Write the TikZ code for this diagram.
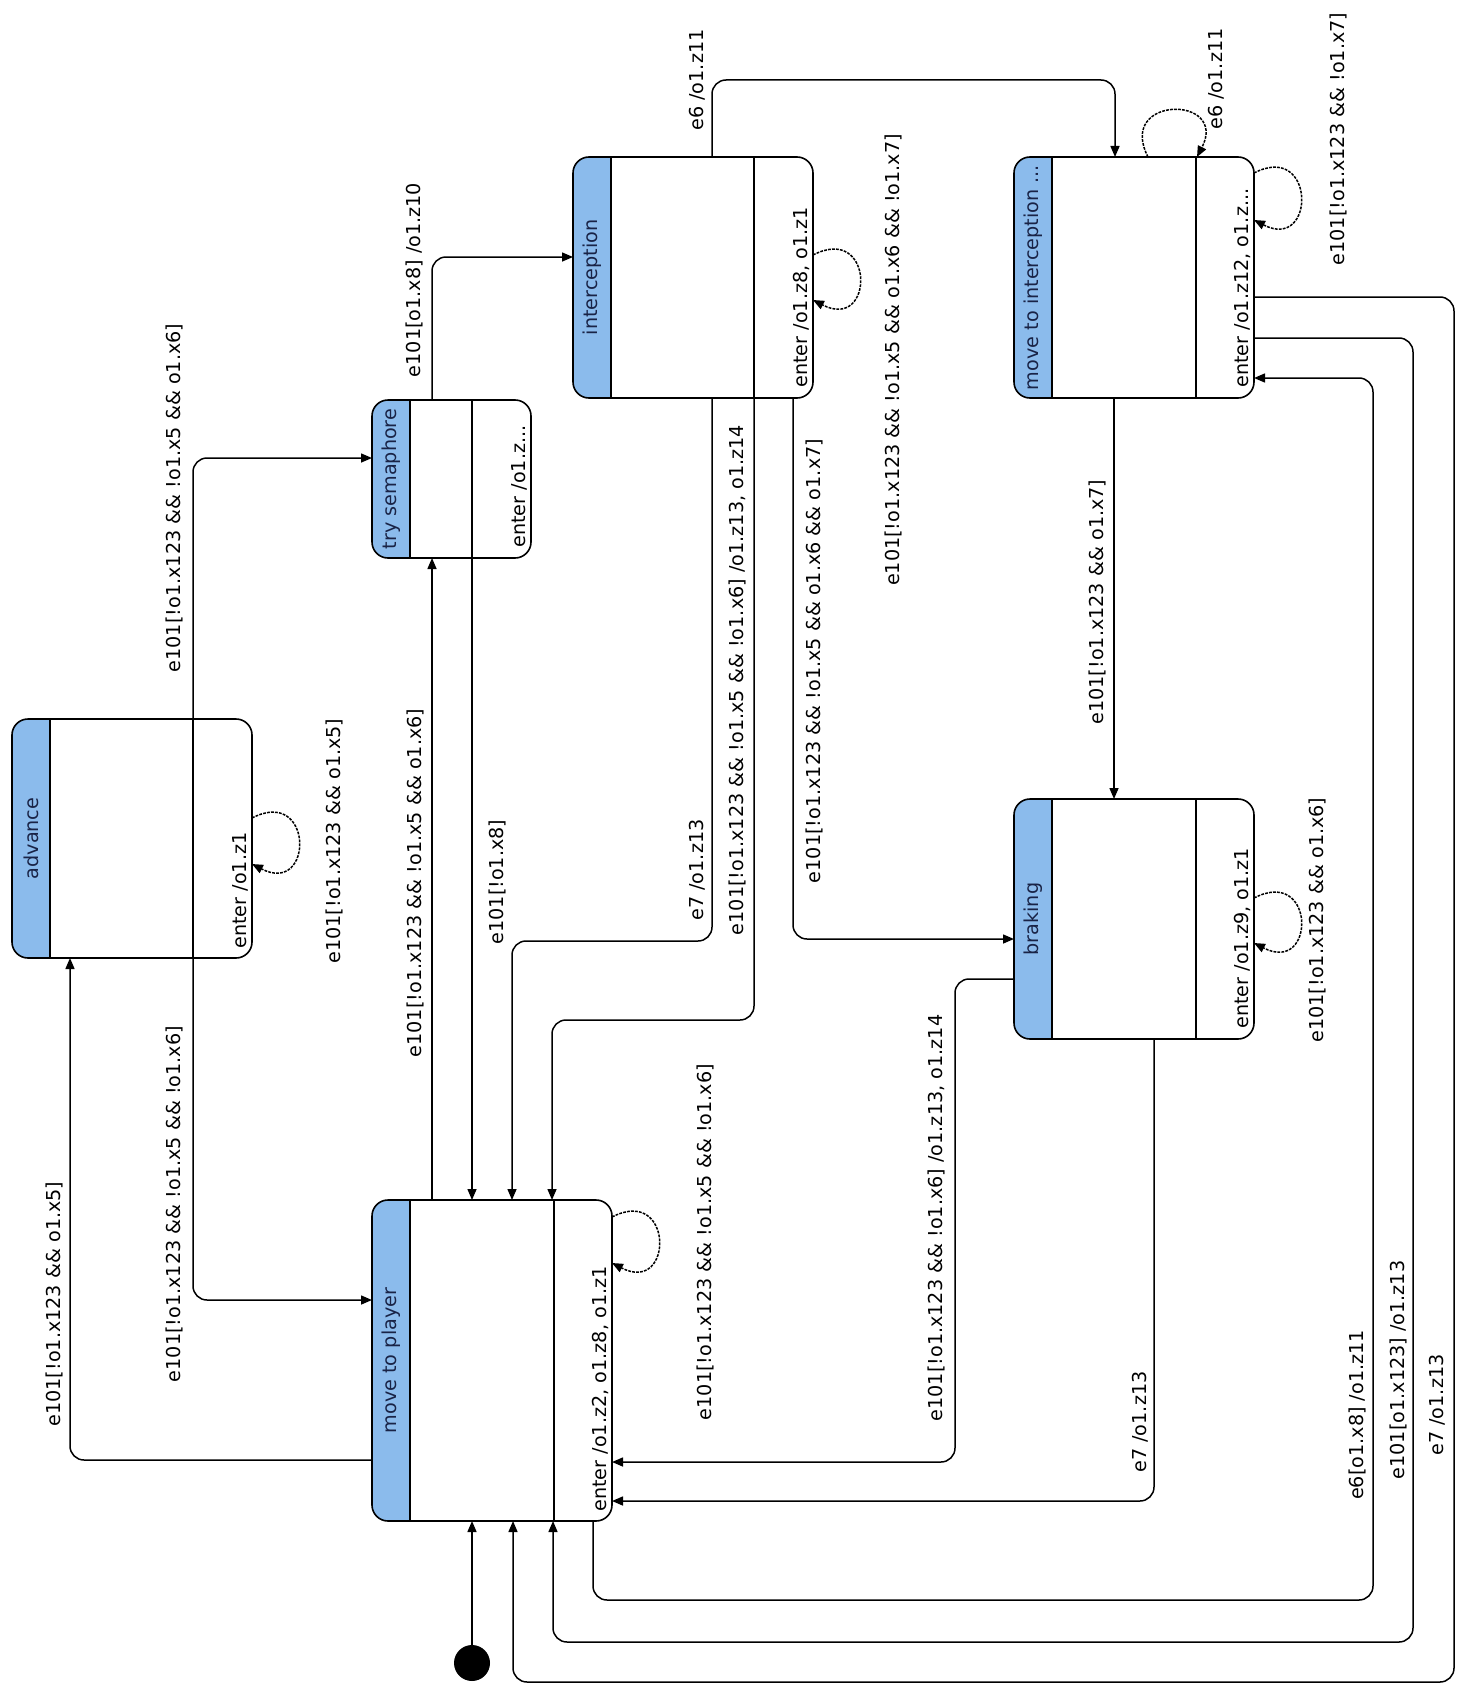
\documentclass[tikz,border=0pt]{standalone}
\usepackage{fontspec}
\setmainfont{DejaVu Sans}
\usetikzlibrary{arrows.meta,calc,fit}
\definecolor{hdrblue}{RGB}{139,187,236}
\definecolor{hdrtext}{RGB}{25,35,70}
\newcommand{\lblfont}{\fontsize{9.6}{11}\selectfont}
\begin{document}
\begin{tikzpicture}[x=0.5pt, y=-0.5pt,
  statebox/.style={draw, line width=0.8pt, rounded corners=8pt, fill=white,
    inner sep=0pt, outer sep=0pt,
    path picture={\fill[hdrblue, sharp corners] (path picture bounding box.north west) rectangle ([xshift=19pt]path picture bounding box.south west);
      \draw[line width=0.8pt, sharp corners] ([xshift=19pt]path picture bounding box.north west) -- ([xshift=19pt]path picture bounding box.south west);}},
  divline/.style={line width=0.8pt},
  hdrlbl/.style={rotate=90, font=\lblfont, text=hdrtext, inner sep=0pt},
  entrytext/.style={rotate=90, anchor=base west, font=\lblfont, inner sep=0pt},
  lbl/.style={rotate=90, font=\lblfont, inner sep=1pt},
  tr/.style={draw, line width=0.75pt, rounded corners=7pt, -{Triangle[length=5.5pt,width=4.5pt]}},
  selfloop/.style={tr, dash pattern=on 1.4pt off 0.6pt}]
\useasboundingbox (0,0) rectangle (1466,1686);

% states
\node[statebox, fit={(12,719)(252,958)}] (adv) {};
\node[statebox, fit={(372,400)(531,558)}] (ts) {};
\node[statebox, fit={(573,157)(813,398)}] (int) {};
\node[statebox, fit={(1014,157)(1254,398)}] (mti) {};
\node[statebox, fit={(1014,799)(1254,1039)}] (brk) {};
\node[statebox, fit={(372,1200)(612,1521)}] (mtp) {};

\draw[divline] ($(adv.north west)+(181,0)$) -- ($(adv.south west)+(181,0)$);
\draw[divline] ($(ts.north west)+(100,0)$) -- ($(ts.south west)+(100,0)$);
\draw[divline] ($(int.north west)+(181,0)$) -- ($(int.south west)+(181,0)$);
\draw[divline] ($(mti.north west)+(182,0)$) -- ($(mti.south west)+(182,0)$);
\draw[divline] ($(brk.north west)+(182,0)$) -- ($(brk.south west)+(182,0)$);
\draw[divline] ($(mtp.north west)+(182,0)$) -- ($(mtp.south west)+(182,0)$);

\node[hdrlbl] (adv-h) at ($(adv.west)+(19,0)$) {advance};
\node[hdrlbl] (ts-h) at ($(ts.west)+(19,0)$) {try semaphore};
\node[hdrlbl] (int-h) at ($(int.west)+(19,0)$) {interception};
\node[hdrlbl] (mti-h) at ($(mti.west)+(19,0)$) {move to interception ...};
\node[hdrlbl] (brk-h) at ($(brk.west)+(19,0)$) {braking};
\node[hdrlbl] (mtp-h) at ($(mtp.west)+(19,0)$) {move to player};

\node[entrytext] (adv-e) at ($(adv.south east)+(-6,-9)$) {enter /o1.z1};
\node[entrytext] (ts-e) at ($(ts.south east)+(-6,-10)$) {enter /o1.z...};
\node[entrytext] (int-e) at ($(int.south east)+(-6,-10)$) {enter /o1.z8, o1.z1};
\node[entrytext] (mti-e) at ($(mti.south east)+(-6,-10)$) {enter /o1.z12, o1.z...};
\node[entrytext] (brk-e) at ($(brk.south east)+(-6,-10)$) {enter /o1.z9, o1.z1};
\node[entrytext] (mtp-e) at ($(mtp.south east)+(-6,-9)$) {enter /o1.z2, o1.z8, o1.z1};

% initial state
\node[circle, fill=black, minimum size=18pt, inner sep=0pt] (init) at (472,1663) {};
\draw[tr] (init) -- ($(mtp.south west)+(100,0)$);

% transitions
\draw[tr] ($(adv.north west)+(181,0)$) |- ($(ts.north west)+(0,58)$);
\draw[tr] ($(ts.north west)+(60,0)$) |- ($(int.north west)+(0,100)$);
\draw[tr] ($(int.north west)+(139,0)$) -- ++(0,-77) -| ($(mti.north west)+(101,0)$);
\draw[tr] ($(mti.south west)+(100,0)$) -- ($(brk.north west)+(100,0)$);
\draw[tr] ($(int.south west)+(220,0)$) |- ($(brk.north west)+(0,140)$);
\draw[tr] ($(int.south west)+(139,0)$) -- ++(0,543) -| ($(mtp.north west)+(140,0)$);
\draw[tr] ($(int.south west)+(181,0)$) -- ++(0,622) -| ($(mtp.north west)+(180,0)$);
\draw[tr] ($(ts.south west)+(100,0)$) -- ($(mtp.north west)+(100,0)$);
\draw[tr] ($(mtp.north west)+(60,0)$) -- ($(ts.south west)+(60,0)$);
\draw[tr] ($(adv.south west)+(181,0)$) |- ($(mtp.north west)+(0,100)$);
\draw[tr] ($(mtp.north west)+(0,260)$) -| ($(adv.south west)+(58,0)$);
\draw[tr] ($(brk.north west)+(0,180)$) -- ++(-59,0) |- ($(mtp.north east)+(0,262)$);
\draw[tr] ($(brk.south west)+(140,0)$) |- ($(mtp.north east)+(0,301)$);
\draw[tr] ($(mtp.south west)+(221,0)$) |- ($(mti.north east)+(119,1443)$) |- ($(mti.north east)+(0,221)$);
\draw[tr] ($(mti.north east)+(0,181)$) -| ($(mti.north east)+(159,1485)$) -| ($(mtp.south west)+(181,0)$);
\draw[tr] ($(mti.north east)+(0,140)$) -| ($(mti.north east)+(200,1525)$) -| ($(mtp.south west)+(141,0)$);

% self loops
\draw[selfloop] ($(adv.north east)+(0,99)$) .. controls +(62,-32) and +(62,32) .. ($(adv.north east)+(0,145)$);
\draw[selfloop] ($(int.north east)+(0,98)$) .. controls +(62,-32) and +(62,32) .. ($(int.north east)+(0,143)$);
\draw[selfloop] ($(mti.north east)+(0,16)$) .. controls +(62,-32) and +(62,32) .. ($(mti.north east)+(0,63)$);
\draw[selfloop] ($(brk.north east)+(0,99)$) .. controls +(62,-32) and +(62,32) .. ($(brk.north east)+(0,144)$);
\draw[selfloop] ($(mtp.north east)+(0,17)$) .. controls +(62,-32) and +(62,32) .. ($(mtp.north east)+(0,63)$);
\draw[selfloop] ($(mti.north west)+(134,0)$) .. controls +(-32,-62) and +(32,-62) .. ($(mti.north west)+(183,0)$);

% labels
\node[lbl] (l1) at (54,1304) {e101[!o1.x123 \&\& o1.x5]};
\node[lbl] (l2) at (174,1204) {e101[!o1.x123 \&\& !o1.x5 \&\& !o1.x6]};
\node[lbl] (l3) at (174,498) {e101[!o1.x123 \&\& !o1.x5 \&\& o1.x6]};
\node[lbl] (l4) at (334,841) {e101[!o1.x123 \&\& o1.x5]};
\node[lbl] (l5) at (415,883) {e101[!o1.x123 \&\& !o1.x5 \&\& o1.x6]};
\node[lbl] (l6) at (497,882) {e101[!o1.x8]};
\node[lbl] (l7) at (414,280) {e101[o1.x8] /o1.z10};
\node[lbl] (l8) at (697,80) {e6 /o1.z11};
\node[lbl] (l9) at (697,870) {e7 /o1.z13};
\node[lbl] (l10) at (737,680) {e101[!o1.x123 \&\& !o1.x5 \&\& !o1.x6] /o1.z13, o1.z14};
\node[lbl] (l11) at (814,661) {e101[!o1.x123 \&\& !o1.x5 \&\& o1.x6 \&\& o1.x7]};
\node[lbl] (l12) at (893,360) {e101[!o1.x123 \&\& !o1.x5 \&\& o1.x6 \&\& !o1.x7]};
\node[lbl] (l13) at (1216,79) {e6 /o1.z11};
\node[lbl] (l14) at (1338,139) {e101[!o1.x123 \&\& !o1.x7]};
\node[lbl] (l15) at (1097,602) {e101[!o1.x123 \&\& o1.x7]};
\node[lbl] (l16) at (1317,920) {e101[!o1.x123 \&\& o1.x6]};
\node[lbl] (l17) at (936,1218) {e101[!o1.x123 \&\& !o1.x6] /o1.z13, o1.z14};
\node[lbl] (l18) at (1140,1422) {e7 /o1.z13};
\node[lbl] (l19) at (1357,1415) {e6[o1.x8] /o1.z11};
\node[lbl] (l20) at (1398,1370) {e101[o1.x123] /o1.z13};
\node[lbl] (l21) at (1437,1405) {e7 /o1.z13};
\node[lbl] (l22) at (705,1242) {e101[!o1.x123 \&\& !o1.x5 \&\& !o1.x6]};
\end{tikzpicture}
\end{document}
